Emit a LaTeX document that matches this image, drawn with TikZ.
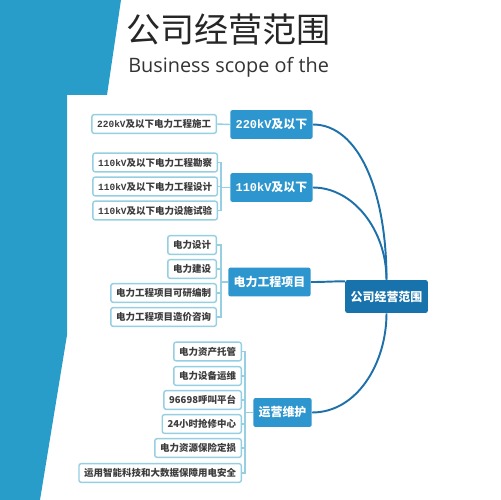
\documentclass[tikz,border=0pt]{standalone}
\usepackage{fontspec}
\setmainfont{Noto Sans CJK SC}
\setmonofont{Liberation Mono}
\newfontfamily\engfont{Open Sans}
\definecolor{bgblue}{RGB}{41,157,202}
\definecolor{rootblue}{RGB}{24,114,172}
\definecolor{boxblue}{RGB}{45,150,206}
\definecolor{edgeblue}{RGB}{30,112,170}
\definecolor{leafline}{RGB}{150,206,226}
\definecolor{leaftext}{RGB}{60,60,60}

\begin{document}
\begin{tikzpicture}[x=0.02cm,y=-0.02cm,
    root/.style={fill=rootblue,text=white,rounded corners=1.2pt,
      minimum width=47pt,minimum height=18.7pt,inner sep=0pt,
      font=\bfseries\fontsize{6.8}{8}\selectfont},
    branch/.style={fill=boxblue,text=white,rounded corners=1.2pt,anchor=west,
      inner xsep=3pt,inner ysep=0pt,minimum height=16.4pt,
      font=\bfseries\fontsize{6.8}{8}\selectfont},
    leaf/.style={draw=leafline,line width=0.8pt,fill=white,text=leaftext,
      rounded corners=1.2pt,anchor=east,inner xsep=3pt,inner ysep=0pt,
      minimum height=10.6pt,font=\bfseries\fontsize{5.4}{6}\selectfont},
    limb/.style={draw=edgeblue,line width=1.1pt},
    twig/.style={draw=leafline,line width=0.8pt}]
  \useasboundingbox (0,0) rectangle (500,500);
  \fill[bgblue] (0,0) -- (121,0) -- (107,95) -- (67,95) -- (67,335)
    -- (40,500) -- (0,500) -- cycle;

  % title
  \node[anchor=west,inner sep=0pt,text=black!85,font=\fontsize{19.4}{22}\selectfont]
    (title) at (126,30) {公司经营范围};
  \node[anchor=base west,inner sep=0pt,text=black!80,font=\engfont\fontsize{11.3}{13}\selectfont]
    (subtitle) at (128,72) {Business scope of the};

  % center and main branches
  \node[root] (scope) at (386.5,296.5) {公司经营范围};
  \node[branch] (kvA) at (230,124.5) {\texttt{220kV}及以下};
  \node[branch] (kvB) at (230,187.5) {\texttt{110kV}及以下};
  \node[branch] (proj) at (228,282) {电力工程项目};
  \node[branch] (ops) at (253,412.5) {运营维护};

  % leaves
  \node[leaf] (kvA1) at (217,124) {\texttt{220kV}及以下电力工程施工};
  \node[leaf] (kvB1) at (218,162.5) {\texttt{110kV}及以下电力工程勘察};
  \node[leaf] (kvB2) at (218,186.5) {\texttt{110kV}及以下电力工程设计};
  \node[leaf] (kvB3) at (218,210.5) {\texttt{110kV}及以下电力设施试验};
  \node[leaf] (proj1) at (217,245) {电力设计};
  \node[leaf] (proj2) at (217,269) {电力建设};
  \node[leaf] (proj3) at (217,293) {电力工程项目可研编制};
  \node[leaf] (proj4) at (217,317) {电力工程项目造价咨询};
  \node[leaf] (ops1) at (242,351.5) {电力资产托管};
  \node[leaf] (ops2) at (242,376) {电力设备运维};
  \node[leaf] (ops3) at (242,400) {96698呼叫平台};
  \node[leaf] (ops4) at (242,424) {24小时抢修中心};
  \node[leaf] (ops5) at (242,448) {电力资源保险定损};
  \node[leaf] (ops6) at (242,473) {运用智能科技和大数据保障用电安全};

  % connectors
  \draw[limb] (kvA.east) .. controls +(45,0) and +(0,-90) .. (scope.north);
  \draw[limb] (kvB.east) .. controls +(40,0) and +(0,-50) .. (scope.north);
  \draw[limb] (proj.east) .. controls +(15,0) and +(-15,0) .. (scope.160);
  \draw[limb] (ops.east) .. controls +(45,0) and +(0,50) .. (scope.south);

  \draw[twig] (kvA.west) -- (kvA1.east);
  \foreach \leafname in {kvB1,kvB2,kvB3}
    \draw[twig] (kvB.west) -- ++(-9,0) |- (\leafname.east);
  \foreach \leafname in {proj1,proj2,proj3,proj4}
    \draw[twig] (proj.west) -- ++(-7,0) |- (\leafname.east);
  \foreach \leafname in {ops1,ops2,ops3,ops4,ops5,ops6}
    \draw[twig] (ops.west) -- ++(-8,0) |- (\leafname.east);
\end{tikzpicture}
\end{document}
